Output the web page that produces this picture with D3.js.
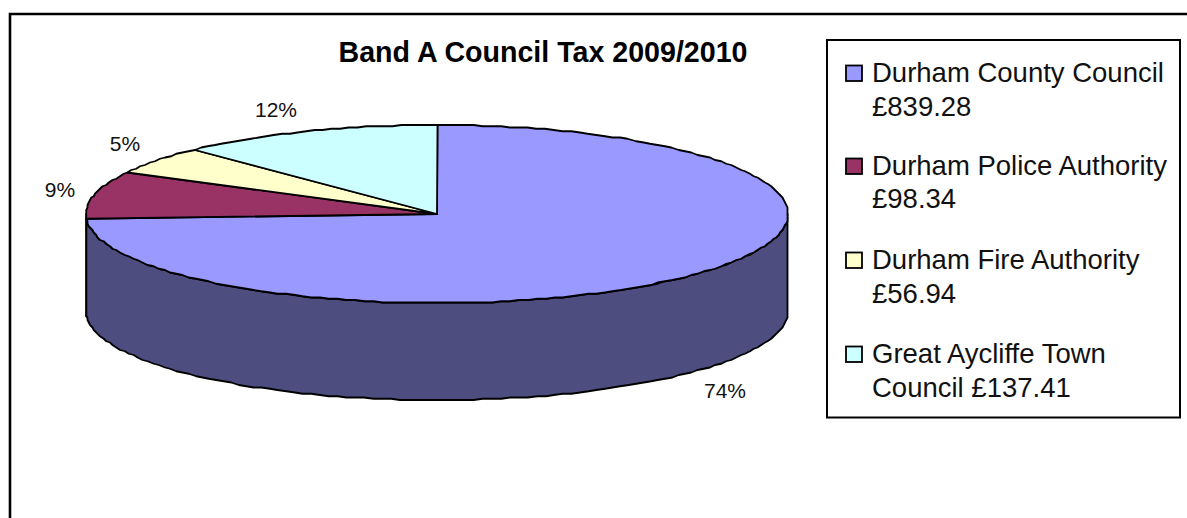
<!DOCTYPE html>
<html>
<head>
<meta charset="utf-8">
<script src="https://cdn.jsdelivr.net/npm/d3@7"></script>
<style>
  html, body { margin: 0; padding: 0; background: #fff; }
  svg { display: block; font-family: "Liberation Sans", Arial, sans-serif; }
</style>
</head>
<body>
<svg id="chart" width="1187" height="518"></svg>
<script>
const title = "Band A Council Tax 2009/2010";
const authorities = ["Durham County Council", "Durham Police Authority", "Durham Fire Authority", "Great Aycliffe Town Council"];
const amounts = [839.28, 98.34, 56.94, 137.41];
const legendLines = [
  ["Durham County Council", "£839.28"],
  ["Durham Police Authority", "£98.34"],
  ["Durham Fire Authority", "£56.94"],
  ["Great Aycliffe Town", "Council £137.41"]
];
const topColours = ["#9999ff", "#993366", "#ffffcc", "#ccffff"];
const wallColours = ["#4d4d80", "#4d1a33", "#808066", "#668080"];

const svg = d3.select("#chart");
const cx = 437, cy = 214, rx = 351, ry = 89, depth = 97;

// Outer chart frame: open at the bottom and running off the right side.
svg.append("path")
  .attr("d", d3.line()([[10, 518], [10, 14], [1187, 14]]))
  .attr("fill", "none").attr("stroke", "#000").attr("stroke-width", 2.6);

svg.append("text")
  .attr("x", 543).attr("y", 62)
  .attr("text-anchor", "middle")
  .attr("font-size", 28.6).attr("font-weight", "bold")
  .text(title);

const slices = d3.pie().sort(null).value(d => d)(amounts);
const px = a => cx + rx * Math.sin(a);
const py = (a, dy = 0) => cy - ry * Math.cos(a) + dy;

// Trace an elliptical rim between two angles; vertices snap to a fine device
// grid, which gives the outline its slightly stepped, plotter-like edge.
const grid = 1.25;
const snap = v => Math.round(v / grid) * grid;
function rim(a0, a1, dy = 0) {
  const n = Math.max(2, Math.ceil(Math.abs(a1 - a0) / (Math.PI / 120)));
  return d3.range(n + 1).map(i => {
    const a = a0 + (a1 - a0) * i / n;
    return [snap(px(a)), snap(py(a, dy))];
  });
}

// Side wall: only the front half of the rim (90 to 270 degrees) is visible.
const front0 = Math.PI / 2, front1 = Math.PI * 1.5;
slices.forEach((s, i) => {
  const a0 = Math.max(s.startAngle, front0), a1 = Math.min(s.endAngle, front1);
  if (a1 <= a0) return;
  const pts = rim(a0, a1).concat(rim(a1, a0, depth));
  svg.append("path")
    .attr("d", d3.line()(pts) + "Z")
    .attr("fill", wallColours[i])
    .attr("stroke", "#000").attr("stroke-width", 1.8).attr("stroke-linejoin", "round");
});

// Top face of each slice.
slices.forEach((s, i) => {
  const pts = [[cx, cy]].concat(rim(s.startAngle, s.endAngle));
  svg.append("path")
    .attr("d", d3.line()(pts) + "Z")
    .attr("fill", topColours[i])
    .attr("stroke", "#000").attr("stroke-width", 1.8).attr("stroke-linejoin", "round");
});

// Percentage labels sit beside their slices.
const pctFormat = d3.format(".0%");
const total = d3.sum(amounts);
const labelAnchors = [[725, 398], [60, 197], [125, 151], [276, 117]];
amounts.forEach((v, i) => {
  svg.append("text")
    .attr("x", labelAnchors[i][0]).attr("y", labelAnchors[i][1])
    .attr("text-anchor", "middle")
    .attr("font-size", 21).attr("fill", "#111")
    .text(pctFormat(v / total));
});

// Legend box.
svg.append("rect")
  .attr("x", 827).attr("y", 40).attr("width", 353).attr("height", 377.5)
  .attr("fill", "#fff").attr("stroke", "#000").attr("stroke-width", 2);

const legendBaselines = [[82, 116], [175, 208], [269, 303], [363, 397]];
legendLines.forEach((lines, i) => {
  svg.append("rect")
    .attr("x", 846).attr("y", legendBaselines[i][0] - 16.5)
    .attr("width", 16).attr("height", 15.5)
    .attr("fill", topColours[i])
    .attr("stroke", "#000").attr("stroke-width", 1.8);
  lines.forEach((line, j) => {
    svg.append("text")
      .attr("x", 872).attr("y", legendBaselines[i][j])
      .attr("font-size", 27.5).attr("fill", "#111")
      .text(line);
  });
});
</script>
</body>
</html>
